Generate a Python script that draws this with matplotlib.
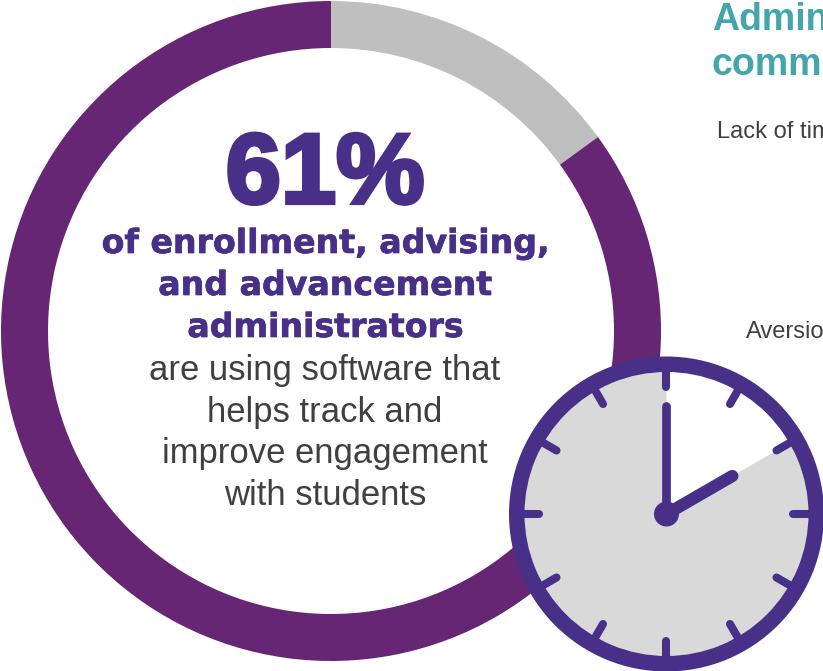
import matplotlib
matplotlib.use("Agg")
import matplotlib.pyplot as plt
import matplotlib.patheffects as pe
import numpy as np

# ring shares, starting at 12 o'clock and going clockwise
ring_values = [15, 85]
ring_colors = ["#BFBFBF", "#662673"]

# clock face: elapsed part is white, rest is grey
face_values = [2, 10]
face_colors = ["#FFFFFF", "#D9D9D9"]
clock_hours = 2
clock_minutes = 0

big_number = "61%"
bold_lines = ["of enrollment, advising,", "and advancement", "administrators"]
body_lines = ["are using software that", "helps track and", "improve engagement", "with students"]
title_lines = ["Administrators", "common"]
bar_labels = ["Lack of time", "Aversion"]

PURPLE = "#483088"
TEAL = "#45A5AD"
GREY_TEXT = "#404040"

fig = plt.figure(figsize=(8.23, 6.71), dpi=100)
ax = fig.add_axes([0, 0, 1, 1])

# axes in pixels, y pointing down
cx, cy = 331, 331
text_x = 325
ax.pie(ring_values, colors=ring_colors, center=(cx, cy), radius=330, startangle=-90,
       counterclock=True, wedgeprops=dict(width=47, linewidth=0), frame=False)

ax.text(text_x, 203, big_number, ha="center", va="baseline", fontsize=71.5, color=PURPLE,
        family="Liberation Sans", weight="bold",
        path_effects=[pe.withStroke(linewidth=3, foreground=PURPLE, joinstyle="miter")])

for y, line in zip([253, 295, 337], bold_lines):
    ax.text(text_x, y, line, ha="center", va="baseline", fontsize=23.9, color=PURPLE,
            family="DejaVu Sans", weight="bold",
            path_effects=[pe.withStroke(linewidth=0.5, foreground=PURPLE, joinstyle="miter")])

for y, line in zip([380, 422, 463, 505], body_lines):
    ax.text(text_x, y, line, ha="center", va="baseline", fontsize=24.9, color=GREY_TEXT,
            family="Liberation Sans")

for y, line in zip([30, 75], title_lines):
    ax.text(712, y, line, ha="left", va="baseline", fontsize=27, color=TEAL,
            family="Liberation Sans", weight="bold", clip_on=True)

for x, y, label in zip([717, 746], [138, 338], bar_labels):
    ax.text(x, y, label, ha="left", va="baseline", fontsize=17, color=GREY_TEXT,
            family="Liberation Sans", clip_on=True)

# clock
kx, ky = 666.5, 514
ax.pie(face_values, colors=face_colors, center=(kx, ky), radius=145, startangle=-90,
       counterclock=True, wedgeprops=dict(linewidth=0), frame=False)
ax.pie([1], colors=[PURPLE], center=(kx, ky), radius=157.5,
       wedgeprops=dict(width=15.5, linewidth=0), frame=False)

for hour in range(12):
    a = np.deg2rad(hour * 30)
    ax.plot([kx + 145 * np.sin(a), kx + 127 * np.sin(a)],
            [ky - 145 * np.cos(a), ky - 127 * np.cos(a)],
            color=PURPLE, lw=5.8, solid_capstyle="round")

minute_a = np.deg2rad(clock_minutes * 6)
hour_a = np.deg2rad(clock_hours * 30 + clock_minutes * 0.5)
ax.plot([kx, kx + 108 * np.sin(minute_a)], [ky, ky - 108 * np.cos(minute_a)],
        color=PURPLE, lw=6.3, solid_capstyle="round")
ax.plot([kx, kx + 76 * np.sin(hour_a)], [ky, ky - 76 * np.cos(hour_a)],
        color=PURPLE, lw=8.8, solid_capstyle="round")
ax.add_patch(plt.Circle((kx, ky), 12.5, color=PURPLE, lw=0, zorder=5))

ax.set_xlim(0, 823)
ax.set_ylim(671, 0)
ax.set_aspect("equal")
ax.axis("off")

fig.savefig("out.png", dpi=100)
